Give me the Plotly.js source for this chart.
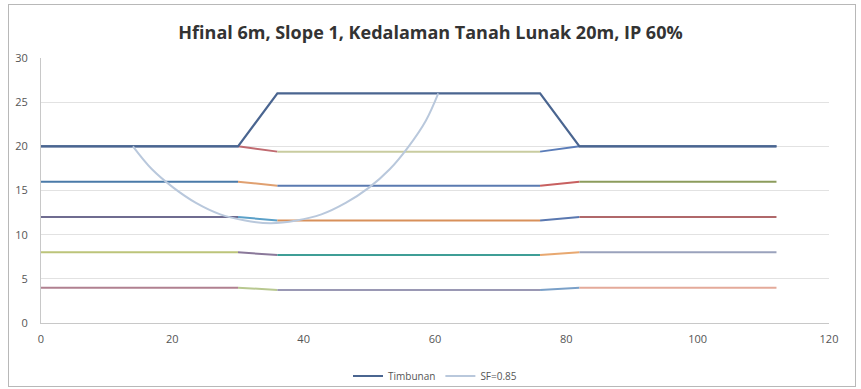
<!DOCTYPE html>
<html><head><meta charset="utf-8">
<script src="https://cdn.plot.ly/plotly-3.0.1.min.js"></script>
<style>
html,body{margin:0;padding:0;background:#fff;}
#frame{position:absolute;left:8px;top:4px;width:846px;height:381px;border:1px solid #b8b8b8;pointer-events:none;z-index:10;}
#chart{position:absolute;left:0;top:0;width:861px;height:389px;}
</style></head>
<body>
<div id="chart"></div><div id="frame"></div>
<script>
// Data
const title = "Hfinal 6m, Slope 1, Kedalaman Tanah Lunak 20m, IP 60%";
const timbunanX = [0, 30, 36, 76, 82, 112];
const timbunanY = [20, 20, 26, 26, 20, 20];
const layerX = [0, 30, 36, 76, 82, 112];
const layer20 = [20, 20, 19.4, 19.4, 20, 20];
const layer16 = [16, 16, 15.55, 15.55, 16, 16];
const layer12 = [12, 12, 11.6, 11.6, 12, 12];
const layer8  = [8, 8, 7.7, 7.7, 8, 8];
const layer4  = [4, 4, 3.75, 3.75, 4, 4];
const sfX = [14, 16.9, 20.2, 23.6, 27.3, 31.1, 35, 38.9, 42.7, 46.4, 49.9, 53.1, 56, 58.6, 60.5];
const sfY = [20, 17.4, 15.3, 13.6, 12.3, 11.6, 11.3, 11.6, 12.3, 13.6, 15.3, 17.4, 20, 22.9, 26];
const xTicks = [0, 20, 40, 60, 80, 100, 120];
const yTicks = [0, 5, 10, 15, 20, 25, 30];

const layers = [layer20, layer16, layer12, layer8, layer4];
const segColors = [
  ["#4a6896", "#c06a70", "#c9cca0", "#5a7cb8", "#4a6896"],
  ["#4a7aa8", "#e0a070", "#5a7ab0", "#c86060", "#8c9c5c"],
  ["#6f6c90", "#5aa0c8", "#d8905a", "#5a78b0", "#b0686a"],
  ["#bcc47a", "#8a789a", "#3f9e96", "#e8a870", "#9aa2bc"],
  ["#b08090", "#b8c890", "#9a98b4", "#7aa0c8", "#e4aa9a"]
];
const traces = [];
layers.forEach((ly, i) => {
  for (let s = 0; s < layerX.length - 1; s++) {
    traces.push({x: layerX.slice(s, s + 2), y: ly.slice(s, s + 2), mode: "lines",
      line: {color: segColors[i][s], width: 2}, showlegend: false, hoverinfo: "skip"});
  }
});
traces.push({x: timbunanX, y: timbunanY, mode: "lines", name: "Timbunan",
  line: {color: "#4a6590", width: 2.2}});
traces.push({x: sfX, y: sfY, mode: "lines", name: "SF=0.85",
  line: {color: "#b9c8dc", width: 2, shape: "spline"}});

const layout = {
  width: 861, height: 389,
  margin: {l: 41, r: 32, t: 58, b: 66, autoexpand: false},
  paper_bgcolor: "#fff", plot_bgcolor: "#fff",
  title: {text: "<b>" + title + "</b>", font: {family: "Open Sans, sans-serif", size: 18, color: "#333"},
          x: 0.5, xanchor: "center", y: 0.915, yanchor: "middle"},
  xaxis: {range: [0, 120], tickvals: xTicks, ticktext: xTicks.map(String), showgrid: false,
          zeroline: false, showline: true, linecolor: "#c8c8c8", linewidth: 1, ticks: "",
          ticklabelstandoff: 6,
          tickfont: {family: "Open Sans, sans-serif", size: 11, color: "#555"}, fixedrange: true},
  yaxis: {range: [0, 30], tickvals: yTicks, ticktext: yTicks.map(String), showgrid: true,
          gridcolor: "#e2e2e2", gridwidth: 1, zeroline: false, showline: true, linecolor: "#c8c8c8",
          ticks: "", ticklabelstandoff: 10,
          tickfont: {family: "Open Sans, sans-serif", size: 11, color: "#555"}, fixedrange: true},
  legend: {orientation: "h", x: 0.5, xanchor: "center", y: -0.2, yanchor: "middle",
           font: {family: "Open Sans, sans-serif", size: 10, color: "#555"}},
  showlegend: true
};
Plotly.newPlot("chart", traces, layout, {displayModeBar: false, staticPlot: true});
</script>
</body></html>
